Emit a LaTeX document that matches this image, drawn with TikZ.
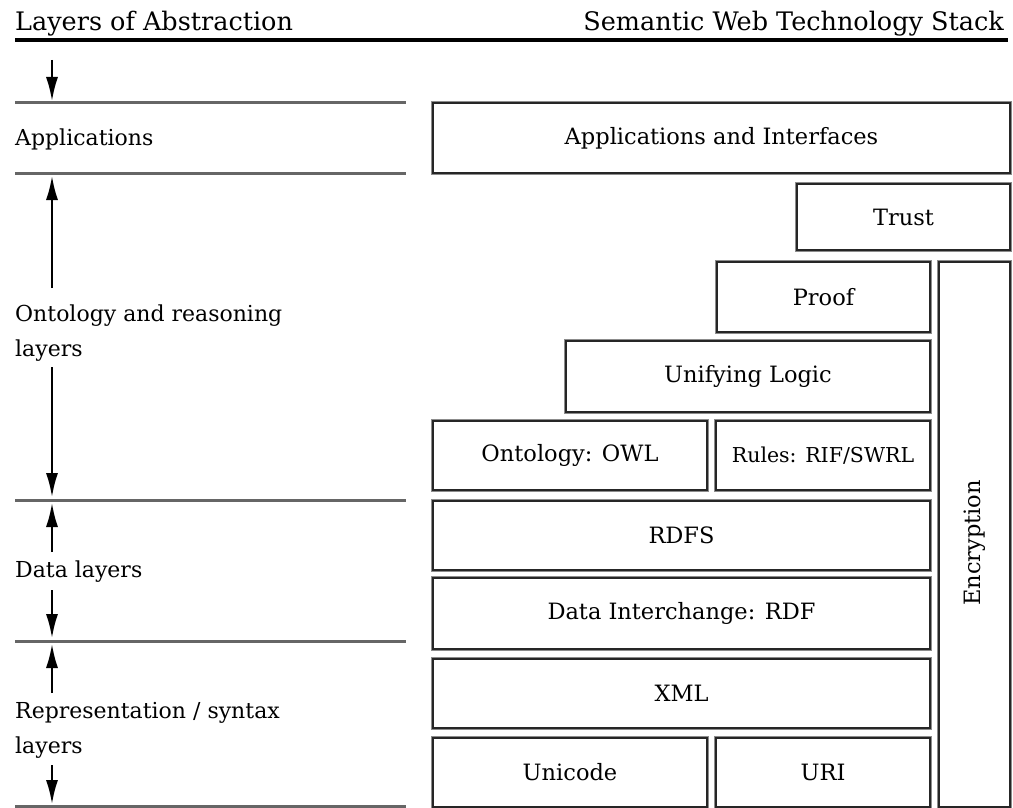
\documentclass[tikz,border=0pt]{standalone}
\usepackage{fontspec}
\setmainfont{DejaVu Serif}
\usetikzlibrary{arrows.meta}

\tikzset{
  stackbox/.style={draw=black!85, line width=1.8pt,
    preaction={draw=black!45, line width=3.6pt},
    fill=white, inner sep=0pt, outer sep=0pt,
    font=\fontsize{22.5}{26}\selectfont, text=black},
  layertext/.style={anchor=west, inner sep=0pt, align=left,
    font=\fontsize{22}{35}\selectfont, text=black},
  headtext/.style={inner sep=0pt, font=\fontsize{25.5}{30}\selectfont, text=black},
  sepline/.style={draw=black!60, line width=3pt},
  titleline/.style={draw=black, line width=3.4pt},
  updown/.style={draw=black, line width=2pt,
    -{Latex[length=24pt,width=12pt]}}
}

\begin{document}
\begin{tikzpicture}[x=1pt,y=-1pt]
\useasboundingbox (0,0) rectangle (1013,808);

% headings and the rule beneath them
\node[headtext, anchor=base west] (hleft) at (15,31) {Layers of Abstraction};
\node[headtext, anchor=base east] (hright) at (1004,31) {Semantic Web Technology Stack};
\draw[titleline] (15,40) -- (1008,40);

% separators of the abstraction layers
\foreach \yy in {103,173,500,641,806}
  \draw[sepline] (15,\yy) -- (406,\yy);

% layer names
\node[layertext] (lapp) at (15,139) {Applications};
\node[layertext] (lont) at (15,333.5) {Ontology and reasoning\\layers};
\node[layertext] (ldata) at (15,572) {Data layers};
\node[layertext] (lrep) at (15,730.5) {Representation / syntax\\layers};

% arrow end points
\coordinate (a0s) at (52,60);   \coordinate (a0e) at (52,101);
\coordinate (a1s) at (52,288);  \coordinate (a1e) at (52,176);
\coordinate (a2s) at (52,367);  \coordinate (a2e) at (52,497);
\coordinate (a3s) at (52,552);  \coordinate (a3e) at (52,503);
\coordinate (a4s) at (52,590);  \coordinate (a4e) at (52,638);
\coordinate (a5s) at (52,693);  \coordinate (a5e) at (52,644);
\coordinate (a6s) at (52,765);  \coordinate (a6e) at (52,804);

\draw[updown] (a0s) -- (a0e);
\draw[updown] (a1s) -- (a1e);
\draw[updown] (a2s) -- (a2e);
\draw[updown] (a3s) -- (a3e);
\draw[updown] (a4s) -- (a4e);
\draw[updown] (a5s) -- (a5e);
\draw[updown] (a6s) -- (a6e);

% technology stack
\node[stackbox, minimum width=577, minimum height=70] (apps) at (721.5,138) {Applications and Interfaces};
\node[stackbox, minimum width=213, minimum height=66] (trust) at (903.5,217) {Trust};
\node[stackbox, minimum width=213, minimum height=70] (proof) at (823.5,297) {Proof};
\node[stackbox, minimum width=71, minimum height=545] (encr) at (974.5,534.5) {};
\node[rotate=90, inner sep=0pt, font=\fontsize{22.5}{26}\selectfont, text=black] (encrtext) at (974.5,543) {Encryption};
\node[stackbox, minimum width=364, minimum height=71] (unify) at (748,376.5) {Unifying Logic};
\node[stackbox, minimum width=274, minimum height=69] (owl) at (570,455.5) {Ontology: OWL};
\node[stackbox, minimum width=214, minimum height=69, font=\fontsize{20.5}{23}\selectfont] (rules) at (823,455.5) {Rules: RIF/SWRL};
\node[stackbox, minimum width=497, minimum height=69] (rdfs) at (681.5,535.5) {RDFS};
\node[stackbox, minimum width=497, minimum height=71] (rdf) at (681.5,613.5) {Data Interchange: RDF};
\node[stackbox, minimum width=497, minimum height=69] (xml) at (681.5,693.5) {XML};
\node[stackbox, minimum width=274, minimum height=69] (unicode) at (570,772.5) {Unicode};
\node[stackbox, minimum width=214, minimum height=69] (uri) at (823,772.5) {URI};
\end{tikzpicture}
\end{document}
